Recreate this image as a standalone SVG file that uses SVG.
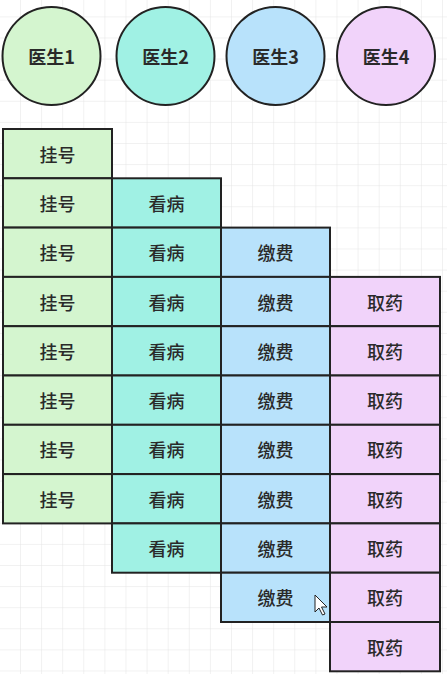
<svg xmlns="http://www.w3.org/2000/svg" width="447" height="674" viewBox="0 0 447 674">
<defs>
<pattern id="grid" patternUnits="userSpaceOnUse" x="-1.1" y="16.4" width="21.1" height="21.1">
<path d="M0 0H21.1M0 0V21.1" fill="none" stroke="#e4e4e4" stroke-width="1"/>
</pattern>
<style>
.c{stroke:#222;stroke-width:2}
.b{stroke:#222;stroke-width:2}
.g{fill:#d4f5cf}
.t{fill:#a0f1e4}
.l{fill:#b8e2fb}
.p{fill:#f1d3fa}
text{font-family:"Noto Sans CJK SC","Noto Sans",sans-serif;font-size:18px;font-weight:500;fill:#2a2a2a;text-anchor:middle;dominant-baseline:central}
.h{font-weight:bold}
</style>
</defs>
<rect width="447" height="674" fill="#fff"/>
<rect width="447" height="674" fill="url(#grid)"/>
<g id="doctor1"><circle class="c g" cx="51.5" cy="56" r="49"/><text class="h" x="51.5" y="56">医生1</text></g>
<g id="doctor2"><circle class="c t" cx="165.5" cy="56" r="49"/><text class="h" x="165.5" y="56">医生2</text></g>
<g id="doctor3"><circle class="c l" cx="275.5" cy="56" r="49"/><text class="h" x="275.5" y="56">医生3</text></g>
<g id="doctor4"><circle class="c p" cx="386" cy="56" r="49"/><text class="h" x="386" y="56">医生4</text></g>
<g id="col1">
<g id="c1r0"><rect class="b g" x="3" y="129" width="109" height="49.3"/><text x="57.5" y="153.6">挂号</text></g>
<g id="c1r1"><rect class="b g" x="3" y="178.3" width="109" height="49.3"/><text x="57.5" y="202.9">挂号</text></g>
<g id="c1r2"><rect class="b g" x="3" y="227.6" width="109" height="49.3"/><text x="57.5" y="252.2">挂号</text></g>
<g id="c1r3"><rect class="b g" x="3" y="276.9" width="109" height="49.3"/><text x="57.5" y="301.5">挂号</text></g>
<g id="c1r4"><rect class="b g" x="3" y="326.2" width="109" height="49.3"/><text x="57.5" y="350.8">挂号</text></g>
<g id="c1r5"><rect class="b g" x="3" y="375.5" width="109" height="49.3"/><text x="57.5" y="400.1">挂号</text></g>
<g id="c1r6"><rect class="b g" x="3" y="424.8" width="109" height="49.3"/><text x="57.5" y="449.4">挂号</text></g>
<g id="c1r7"><rect class="b g" x="3" y="474.1" width="109" height="49.3"/><text x="57.5" y="498.7">挂号</text></g>
</g>
<g id="col2">
<g id="c2r1"><rect class="b t" x="112" y="178.3" width="109" height="49.3"/><text x="166.5" y="202.9">看病</text></g>
<g id="c2r2"><rect class="b t" x="112" y="227.6" width="109" height="49.3"/><text x="166.5" y="252.2">看病</text></g>
<g id="c2r3"><rect class="b t" x="112" y="276.9" width="109" height="49.3"/><text x="166.5" y="301.5">看病</text></g>
<g id="c2r4"><rect class="b t" x="112" y="326.2" width="109" height="49.3"/><text x="166.5" y="350.8">看病</text></g>
<g id="c2r5"><rect class="b t" x="112" y="375.5" width="109" height="49.3"/><text x="166.5" y="400.1">看病</text></g>
<g id="c2r6"><rect class="b t" x="112" y="424.8" width="109" height="49.3"/><text x="166.5" y="449.4">看病</text></g>
<g id="c2r7"><rect class="b t" x="112" y="474.1" width="109" height="49.3"/><text x="166.5" y="498.7">看病</text></g>
<g id="c2r8"><rect class="b t" x="112" y="523.4" width="109" height="49.3"/><text x="166.5" y="548">看病</text></g>
</g>
<g id="col3">
<g id="c3r2"><rect class="b l" x="221" y="227.6" width="109" height="49.3"/><text x="275.5" y="252.2">缴费</text></g>
<g id="c3r3"><rect class="b l" x="221" y="276.9" width="109" height="49.3"/><text x="275.5" y="301.5">缴费</text></g>
<g id="c3r4"><rect class="b l" x="221" y="326.2" width="109" height="49.3"/><text x="275.5" y="350.8">缴费</text></g>
<g id="c3r5"><rect class="b l" x="221" y="375.5" width="109" height="49.3"/><text x="275.5" y="400.1">缴费</text></g>
<g id="c3r6"><rect class="b l" x="221" y="424.8" width="109" height="49.3"/><text x="275.5" y="449.4">缴费</text></g>
<g id="c3r7"><rect class="b l" x="221" y="474.1" width="109" height="49.3"/><text x="275.5" y="498.7">缴费</text></g>
<g id="c3r8"><rect class="b l" x="221" y="523.4" width="109" height="49.3"/><text x="275.5" y="548">缴费</text></g>
<g id="c3r9"><rect class="b l" x="221" y="572.7" width="109" height="49.3"/><text x="275.5" y="597.3">缴费</text></g>
</g>
<g id="col4">
<g id="c4r3"><rect class="b p" x="330" y="276.9" width="110" height="49.3"/><text x="385" y="301.5">取药</text></g>
<g id="c4r4"><rect class="b p" x="330" y="326.2" width="110" height="49.3"/><text x="385" y="350.8">取药</text></g>
<g id="c4r5"><rect class="b p" x="330" y="375.5" width="110" height="49.3"/><text x="385" y="400.1">取药</text></g>
<g id="c4r6"><rect class="b p" x="330" y="424.8" width="110" height="49.3"/><text x="385" y="449.4">取药</text></g>
<g id="c4r7"><rect class="b p" x="330" y="474.1" width="110" height="49.3"/><text x="385" y="498.7">取药</text></g>
<g id="c4r8"><rect class="b p" x="330" y="523.4" width="110" height="49.3"/><text x="385" y="548">取药</text></g>
<g id="c4r9"><rect class="b p" x="330" y="572.7" width="110" height="49.3"/><text x="385" y="597.3">取药</text></g>
<g id="c4r10"><rect class="b p" x="330" y="622" width="110" height="49.3"/><text x="385" y="646.6">取药</text></g>
</g>
<g id="connectors"/>
<path d="M315 595 L315 612 L319 608 L322.5 615 L325 614 L321.5 607 L327 607 Z" fill="#fff" stroke="#222" stroke-width="1"/>
</svg>
